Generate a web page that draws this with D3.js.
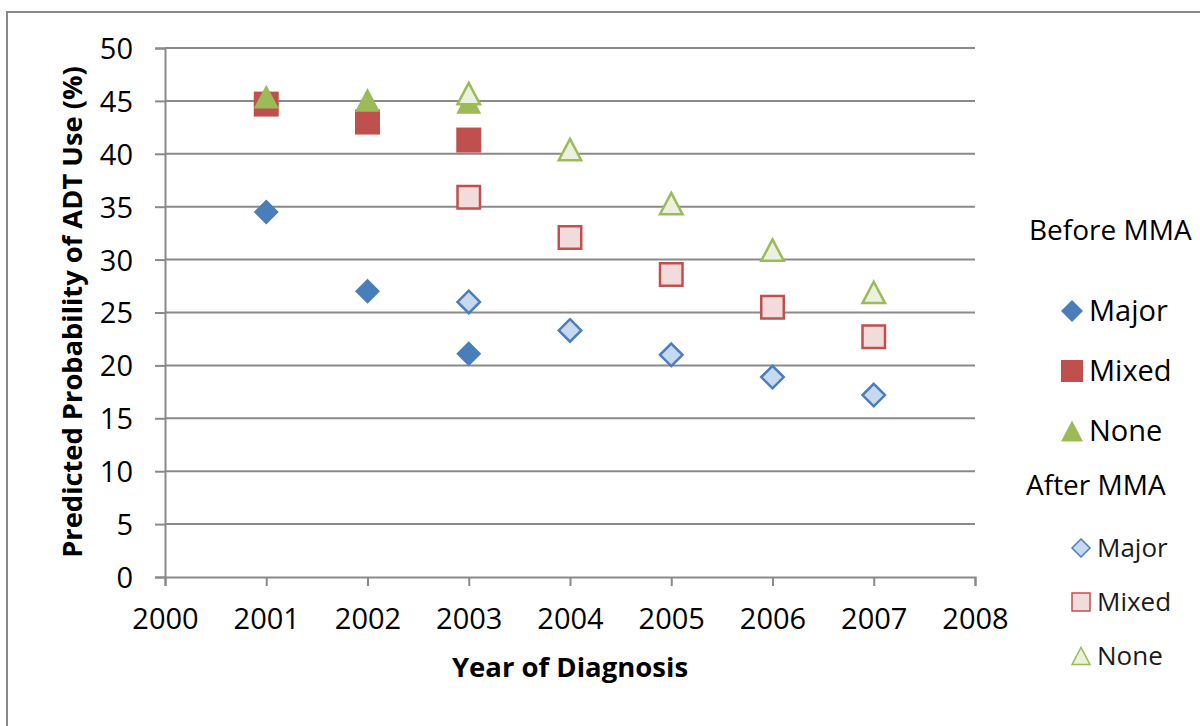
<!DOCTYPE html>
<html>
<head>
<meta charset="utf-8">
<script src="https://cdn.jsdelivr.net/npm/d3@7"></script>
<style>
  html, body { margin: 0; padding: 0; background: #fff; }
  svg { display: block; font-family: "Open Sans", "Liberation Sans", sans-serif; }
</style>
</head>
<body>
<svg id="chart" width="1200" height="726"></svg>
<script>
// Year of diagnosis for each estimate
const yearsBefore = [2001, 2002, 2003];
const yearsAfter = [2003, 2004, 2005, 2006, 2007];

// Predicted probability of ADT use (%), before the MMA
const beforeMajor = [34.5, 27.0, 21.1];
const beforeMixed = [44.7, 43.0, 41.3];
const beforeNone = [45.4, 45.1, 44.9];

// Predicted probability of ADT use (%), after the MMA
const afterMajor = [26.0, 23.3, 21.0, 18.9, 17.2];
const afterMixed = [35.9, 32.1, 28.6, 25.5, 22.7];
const afterNone = [45.7, 40.4, 35.3, 30.9, 26.9];

const xTicks = [2000, 2001, 2002, 2003, 2004, 2005, 2006, 2007, 2008];
const yTicks = [0, 5, 10, 15, 20, 25, 30, 35, 40, 45, 50];

const colors = {
  major: { solid: "#4a7ebb", light: "#c6d9f1" },
  mixed: { solid: "#c0504d", light: "#f2dcdb" },
  none:  { solid: "#9bbb59", light: "#ebf1de" }
};

const series = [
  { name: "Major", group: "before", kind: "major", shape: "diamond", years: yearsBefore, values: beforeMajor },
  { name: "Mixed", group: "before", kind: "mixed", shape: "square", years: yearsBefore, values: beforeMixed },
  { name: "None",  group: "before", kind: "none",  shape: "triangle", years: yearsBefore, values: beforeNone },
  { name: "Major", group: "after",  kind: "major", shape: "diamond", years: yearsAfter, values: afterMajor },
  { name: "Mixed", group: "after",  kind: "mixed", shape: "square", years: yearsAfter, values: afterMixed },
  { name: "None",  group: "after",  kind: "none",  shape: "triangle", years: yearsAfter, values: afterNone }
];

const svg = d3.select("#chart");
const gridColor = "#898989";

// Chart frame
svg.append("rect")
  .attr("x", 7).attr("y", 12)
  .attr("width", 1210).attr("height", 730)
  .attr("fill", "#fff")
  .attr("stroke", gridColor).attr("stroke-width", 2);

const plot = { left: 165, right: 975, top: 48, bottom: 577 };

const x = d3.scaleLinear().domain([2000, 2008]).range([plot.left, plot.right]);
const y = d3.scaleLinear().domain([0, 50]).range([plot.bottom, plot.top]);

// Horizontal gridlines
svg.append("g")
  .selectAll("line")
  .data(yTicks.filter(t => t > 0))
  .join("line")
  .attr("x1", plot.left).attr("x2", plot.right)
  .attr("y1", d => y(d)).attr("y2", d => y(d))
  .attr("stroke", gridColor).attr("stroke-width", 2);

// Y axis
const yAxis = svg.append("g")
  .attr("transform", `translate(${plot.left},0)`)
  .call(d3.axisLeft(y).tickValues(yTicks).tickSize(10).tickPadding(22).tickFormat(d3.format("d")));
yAxis.select(".domain").attr("stroke", gridColor).attr("stroke-width", 2);
yAxis.selectAll(".tick line").attr("stroke", gridColor).attr("stroke-width", 2);
yAxis.selectAll(".tick text")
  .attr("font-size", 29).attr("fill", "#000")
  .attr("font-family", "Open Sans, sans-serif")
  .attr("dy", "0.36em");

// X axis
const xAxis = svg.append("g")
  .attr("transform", `translate(0,${plot.bottom})`)
  .call(d3.axisBottom(x).tickValues(xTicks).tickSize(9).tickPadding(22).tickFormat(d3.format("d")));
xAxis.select(".domain").attr("stroke", gridColor).attr("stroke-width", 2);
xAxis.selectAll(".tick line").attr("stroke", gridColor).attr("stroke-width", 2);
xAxis.selectAll(".tick text")
  .attr("font-size", 29).attr("fill", "#000")
  .attr("font-family", "Open Sans, sans-serif");

// Axis titles
svg.append("text")
  .attr("x", 570).attr("y", 677)
  .attr("text-anchor", "middle")
  .attr("font-size", 27.5).attr("font-weight", "bold")
  .text("Year of Diagnosis");

svg.append("text")
  .attr("transform", `translate(82,312) rotate(-90)`)
  .attr("text-anchor", "middle")
  .attr("font-size", 27.3).attr("font-weight", "bold")
  .text("Predicted Probability of ADT Use (%)");

// Marker shapes, centred on (0,0), sized by width s
function markerPath(shape, s) {
  const h = s / 2;
  if (shape === "diamond") return `M0,${-h}L${h},0L0,${h}L${-h},0Z`;
  if (shape === "square") return `M${-h},${-h}H${h}V${h}H${-h}Z`;
  const th = s * 0.95;
  return `M0,${-th / 2}L${h},${th / 2}L${-h},${th / 2}Z`;
}

function styleMarker(sel, s) {
  sel.attr("fill", s.group === "before" ? colors[s.kind].solid : colors[s.kind].light)
     .attr("stroke", s.group === "before" ? "none" : colors[s.kind].solid)
     .attr("stroke-width", s.group === "before" ? 0 : 2.5)
     .attr("stroke-linejoin", "miter");
}

const markerSize = { diamond: 25, square: 25, triangle: 25 };

series.forEach(s => {
  const size = s.group === "before" ? markerSize[s.shape] : markerSize[s.shape] - 2.5;
  svg.append("g")
    .selectAll("path")
    .data(s.years.map((yr, i) => ({ yr, v: s.values[i] })))
    .join("path")
    .attr("transform", d => `translate(${x(d.yr)},${y(d.v)})`)
    .attr("d", markerPath(s.shape, size))
    .call(styleMarker, s);
});

// Legend
const legend = svg.append("g");
legend.append("text").attr("x", 1029).attr("y", 240).attr("font-size", 28).text("Before MMA");
legend.append("text").attr("x", 1026).attr("y", 495).attr("font-size", 28).text("After MMA");

const legendBefore = [
  { s: series[0], y: 311 },
  { s: series[1], y: 371 },
  { s: series[2], y: 431 }
];
const legendAfter = [
  { s: series[3], y: 548 },
  { s: series[4], y: 602 },
  { s: series[5], y: 656 }
];

legendBefore.forEach(d => {
  legend.append("path")
    .attr("transform", `translate(1072,${d.y})`)
    .attr("d", markerPath(d.s.shape, 22))
    .call(styleMarker, d.s);
  legend.append("text")
    .attr("x", 1089).attr("y", d.y).attr("dy", "0.36em")
    .attr("font-size", 29).text(d.s.name);
});

legendAfter.forEach(d => {
  legend.append("path")
    .attr("transform", `translate(1081,${d.y})`)
    .attr("d", markerPath(d.s.shape, 18))
    .call(styleMarker, d.s)
    .attr("stroke-width", 1.5);
  legend.append("text")
    .attr("x", 1097).attr("y", d.y).attr("dy", "0.36em")
    .attr("font-size", 26).attr("fill", "#1a1a1a").text(d.s.name);
});
</script>
</body>
</html>
